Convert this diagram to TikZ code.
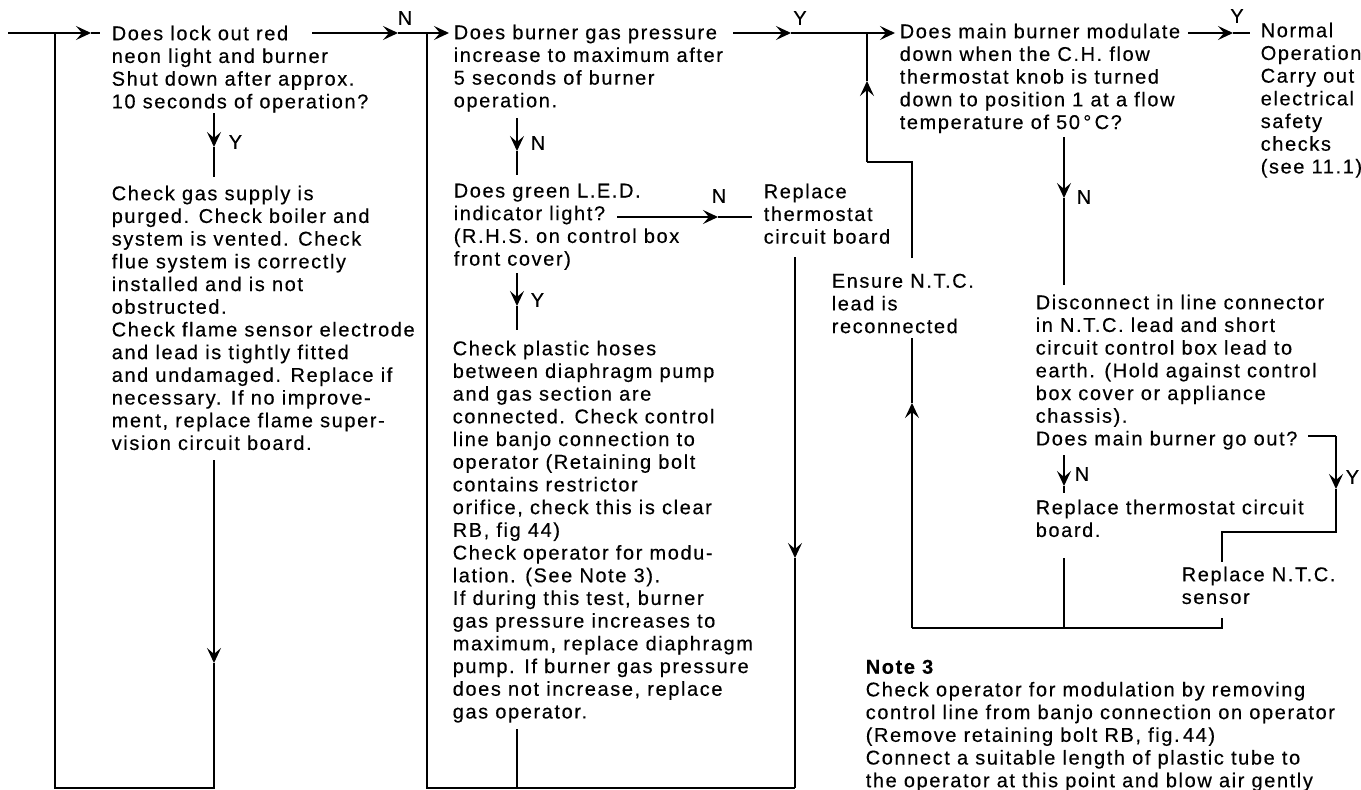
\documentclass[tikz,border=0pt]{standalone}
\usepackage{fontspec}
\setmainfont{Liberation Sans}[LetterSpace=8,FakeBold=0.3]
\usetikzlibrary{arrows.meta}
\newcommand\body{\fontsize{20pt}{22.7pt}\selectfont}
\begin{document}
\begin{tikzpicture}[x=1pt,y=-1pt,line width=1.5pt,
		txt/.style={anchor=north west,inner sep=0pt,align=left,font=\body},
		yn/.style={inner sep=0pt,font=\body},
		tip/.style={-{Stealth[length=15pt,width=14pt,inset=6pt]}}
		]
	\useasboundingbox[fill=white] (0,0) rectangle (1361,790);
	% text blocks
	\node[txt] (q1) at (111,25) {Does lock out red\\neon light and burner\\Shut down after approx.\\10 seconds of operation?};
	\node[txt] (chk1) at (111,185) {Check gas supply is\\purged. Check boiler and\\system is vented. Check\\flue system is correctly\\installed and is not\\obstructed.\\Check flame sensor electrode\\and lead is tightly fitted\\and undamaged. Replace if\\necessary. If no improve-\\ment, replace flame super-\\vision circuit board.};
	\node[txt] (q2) at (453,24) {Does burner gas pressure\\increase to maximum after\\5 seconds of burner\\operation.};
	\node[txt] (q4) at (453,183) {Does green L.E.D.\\indicator light?\\(R.H.S. on control box\\front cover)};
	\node[txt] (rtb1) at (763,183) {Replace\\thermostat\\circuit board};
	\node[txt] (chk2) at (452,340) {Check plastic hoses\\between diaphragm pump\\and gas section are\\connected. Check control\\line banjo connection to\\operator (Retaining bolt\\contains restrictor\\orifice, check this is clear\\RB, fig 44)\\Check operator for modu-\\lation. (See Note 3).\\If during this test, burner\\gas pressure increases to\\maximum, replace diaphragm\\pump. If burner gas pressure\\does not increase, replace\\gas operator.};
	\node[txt] (ntc) at (831,273) {Ensure N.T.C.\\lead is\\reconnected};
	\node[txt] (q3) at (899,23) {Does main burner modulate\\down when the C.H. flow\\thermostat knob is turned\\down to position 1 at a flow\\temperature of 50\,°\,C?};
	\node[txt] (okn) at (1260,22) {Normal\\Operation\\Carry out\\electrical\\safety\\checks\\(see 11.1)};
	\node[txt] (q5) at (1035,294) {Disconnect in line connector\\in N.T.C. lead and short\\circuit control box lead to\\earth. (Hold against control\\box cover or appliance\\chassis).\\Does main burner go out?};
	\node[txt] (rtb2) at (1035,499) {Replace thermostat circuit\\board.};
	\node[txt] (rntc) at (1181,566) {Replace N.T.C.\\sensor};
	\node[txt] (note) at (865,659) {\textbf{Note 3}\\Check operator for modulation by removing\\control line from banjo connection on operator\\(Remove retaining bolt RB, fig.\,44)\\Connect a suitable length of plastic tube to\\the operator at this point and blow air gently};
	% Y / N labels
	\node[yn] (n1) at (405,18) {N};
	\node[yn,anchor=west] (y1) at (228,142) {Y};
	\node[yn,anchor=west] (n2) at (530,143) {N};
	\node[yn] (n4) at (719,196) {N};
	\node[yn,anchor=west] (y4) at (530,300) {Y};
	\node[yn] (y2) at (800,18) {Y};
	\node[yn] (y3) at (1237,16) {Y};
	\node[yn,anchor=west] (n3) at (1076,197) {N};
	\node[yn,anchor=west] (n5) at (1074,474) {N};
	\node[yn,anchor=west] (y5) at (1345,477) {Y};
	% junctions
	\coordinate (start) at (8,33);
	\coordinate (ja) at (55,33);
	\coordinate (jb) at (427,33);
	\coordinate (jc) at (867,33);
	\coordinate (jd) at (1064,628);
	% column 1
	\draw[tip] (start) -- (91,33);
	\draw (91,33) -- (100,33);
	\draw[tip] (214,113) -- (214,147);
	\draw (214,147) -- (214,177);
	\draw[tip] (214,460) -- (214,663);
	\draw (214,663) -- (214,788) -- (55,788) -- (ja);
	\draw[tip] (312,33) -- (398,33);
	\draw (398,33) -- (jb);
	\draw[tip] (jb) -- (449,33);
	% column 2
	\draw (jb) -- (427,788) -- (795,788);
	\draw (517,729) -- (517,788);
	\draw[tip] (795,257) -- (795,558);
	\draw (795,558) -- (795,788);
	\draw[tip] (517,118) -- (517,151);
	\draw (517,151) -- (517,175);
	\draw[tip] (617,217) -- (718,217);
	\draw (718,217) -- (752,217);
	\draw[tip] (517,273) -- (517,306);
	\draw (517,306) -- (517,330);
	\draw[tip] (733,33) -- (791,33);
	\draw (791,33) -- (jc);
	\draw[tip] (jc) -- (895,33);
	% return loop
	\draw (912,258) -- (912,162) -- (867,162);
	\draw[tip] (867,162) -- (867,81);
	\draw (867,81) -- (jc);
	\draw[tip] (912,628) -- (912,403);
	\draw (912,403) -- (912,338);
	\draw (912,628) -- (jd) -- (1222,628) -- (1222,618);
	\draw (1064,558) -- (jd);
	% column 3
	\draw[tip] (1188,33) -- (1233,33);
	\draw (1233,33) -- (1250,33);
	\draw[tip] (1064,137) -- (1064,198);
	\draw (1064,198) -- (1064,285);
	\draw[tip] (1064,455) -- (1064,486);
	\draw (1064,486) -- (1064,493);
	\draw (1308,436) -- (1336,436);
	\draw[tip] (1336,436) -- (1336,489);
	\draw (1336,489) -- (1336,532) -- (1222,532) -- (1222,562);
\end{tikzpicture}
\end{document}
